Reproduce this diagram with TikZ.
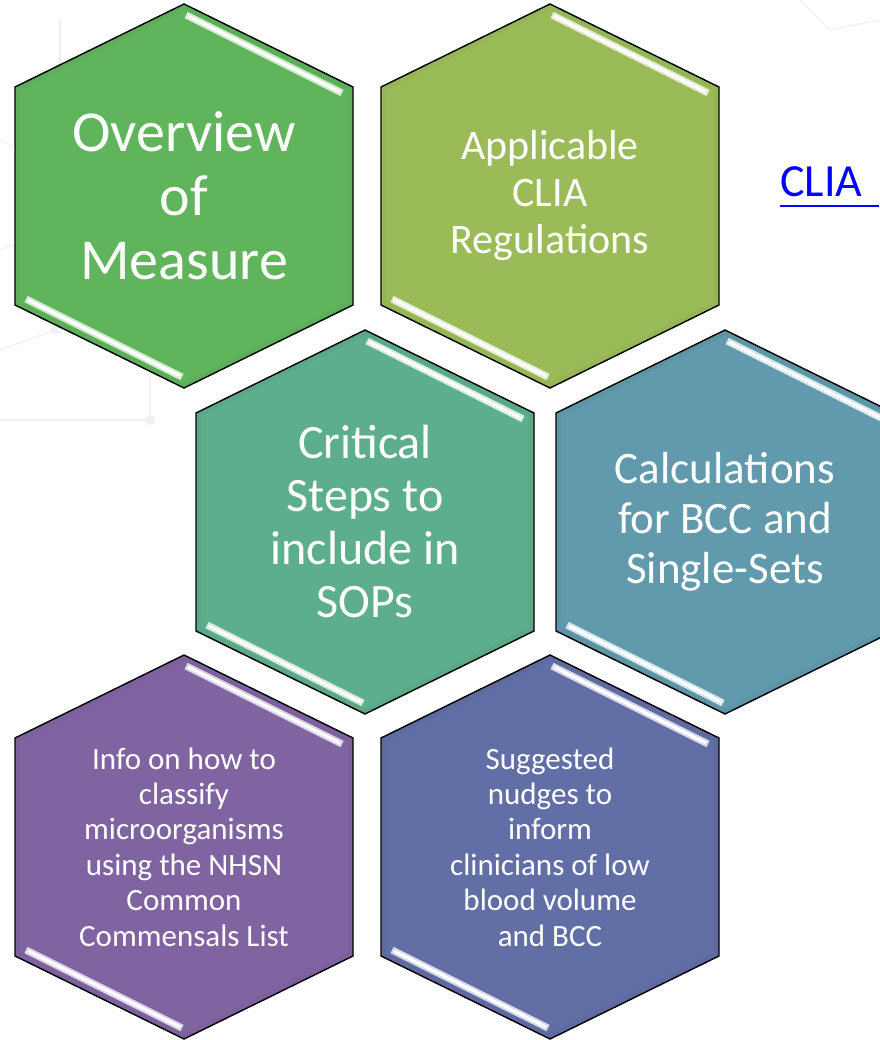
\documentclass[tikz,border=0pt]{standalone}
\usepackage{fontspec}
\setmainfont{Carlito}
\usepackage{xcolor}
\usepackage{tikz}
\definecolor{measuregreen}{RGB}{96,180,92}
\definecolor{cliaolive}{RGB}{155,187,89}
\definecolor{sopteal}{RGB}{93,174,140}
\definecolor{calcblue}{RGB}{96,154,172}
\definecolor{infopurple}{RGB}{128,100,162}
\definecolor{nudgeblue}{RGB}{98,110,166}
\definecolor{linkblue}{RGB}{0,0,255}
\definecolor{bgline}{RGB}{238,241,243}

\tikzset{
  shine/.style={line width=7pt, color=#1!25!white},
  shinecore/.style={line width=3pt, color=white},
}

% one honeycomb cell round a named centre
\newcommand{\hexcell}[2]{%
  \begin{scope}[shift={(#1)}]
    \fill[#2] (0,-192) -- (169,-109) -- (169,109) -- (0,192) -- (-169,109) -- (-169,-109) -- cycle;
    \begin{scope}
      \clip (0,-192) -- (169,-109) -- (169,109) -- (0,192) -- (-169,109) -- (-169,-109) -- cycle;
      \draw[#2!80!black, line width=10pt, opacity=0.15] (0,-192) -- (169,-109) -- (169,109) -- (0,192) -- (-169,109) -- (-169,-109) -- cycle;
    \end{scope}
    \draw[black, line width=1.4pt] (0,-192) -- (169,-109) -- (169,109) -- (0,192) -- (-169,109) -- (-169,-109) -- cycle;
    \draw[shine=#2] (2,-181) -- (158,-103);
    \draw[shinecore] (4,-180) -- (156,-104);
    \draw[shine=#2] (-158,103) -- (-2,181);
    \draw[shinecore] (-156,104) -- (-4,180);
  \end{scope}}

\begin{document}
\begin{tikzpicture}[x=1pt, y=-1pt,
    celltext/.style={align=center, text=white, inner sep=0pt}]
    \fill[white] (0,0) rectangle (879,1040);
    \useasboundingbox (0,0) rectangle (879,1040);

    % faint network in the background
    \draw[bgline, line width=1.2pt] (0,140) -- (55,165) -- (55,330) -- (0,350);
    \draw[bgline, line width=1.2pt] (55,230) -- (0,250);
    \draw[bgline, line width=1.2pt] (55,330) -- (150,300) -- (150,420);
    \draw[bgline, line width=1.2pt] (0,420) -- (150,420);
    \draw[bgline, line width=1.2pt] (60,20) -- (60,120);
    \draw[bgline, line width=1.2pt] (800,0) -- (830,30) -- (879,20);
    \fill[bgline] (55,165) circle (4) (55,330) circle (4) (150,300) circle (4) (150,420) circle (5);

    \coordinate (h1) at (184,196);
    \coordinate (h2) at (550,196);
    \coordinate (h3) at (365,522);
    \coordinate (h4) at (725,522);
    \coordinate (h5) at (184,847);
    \coordinate (h6) at (550,847);

    \hexcell{h1}{measuregreen}
    \hexcell{h2}{cliaolive}
    \hexcell{h3}{sopteal}
    \hexcell{h4}{calcblue}
    \hexcell{h5}{infopurple}
    \hexcell{h6}{nudgeblue}

    \node[celltext, font=\fontsize{58}{64}\selectfont] (overview) at (h1) {Overview\\of\\Measure};
    \node[celltext, font=\fontsize{42}{47}\selectfont] (regs) at (h2) {Applicable\\CLIA\\Regulations};
    \node[celltext, font=\fontsize{48}{53}\selectfont] (sops) at (h3) {Critical\\Steps to\\include in\\SOPs};
    \node[celltext, font=\fontsize{45}{50}\selectfont] (calcs) at (h4) {Calculations\\for BCC and\\Single-Sets};
    \node[celltext, font=\fontsize{31}{35.4}\selectfont] (classify) at (h5) {Info on how to\\classify\\microorganisms\\using the NHSN\\Common\\Commensals List};
    \node[celltext, font=\fontsize{31}{35.4}\selectfont] (nudges) at (h6) {Suggested\\nudges to\\inform\\clinicians of low\\blood volume\\and BCC};

    \node[anchor=base west, inner sep=0pt, text=linkblue, font=\fontsize{46}{50}\selectfont] (clia) at (780,197) {CLIA};
    \coordinate (linkend) at (879,206);
    \draw[linkblue, line width=2.6pt] (clia.base west) ++(0,9) -- (linkend);
\end{tikzpicture}
\end{document}
